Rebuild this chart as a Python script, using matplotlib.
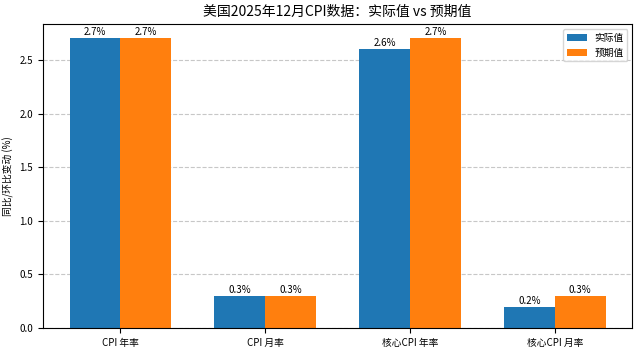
import matplotlib
matplotlib.use("Agg")
import matplotlib.pyplot as plt
import numpy as np

plt.rcParams['font.family'] = ['Noto Sans CJK SC', 'DejaVu Sans']
plt.rcParams['axes.unicode_minus'] = False

categories = ['CPI 年率', 'CPI 月率', '核心CPI 年率', '核心CPI 月率']
actual = [2.7, 0.3, 2.6, 0.2]
expected = [2.7, 0.3, 2.7, 0.3]

fig, ax = plt.subplots(figsize=(6.4, 3.52), dpi=100)
x = np.arange(len(categories))
w = 0.35
b1 = ax.bar(x - w/2, actual, w, label='实际值', color='#1f77b4')
b2 = ax.bar(x + w/2, expected, w, label='预期值', color='#ff7f0e')
for bars in (b1, b2):
    for b in bars:
        ax.text(b.get_x() + b.get_width()/2, b.get_height() + 0.01,
                f'{b.get_height():.1f}%', ha='center', va='bottom', fontsize=7)
ax.set_xticks(x)
ax.set_xticklabels(categories, fontsize=7)
ax.tick_params(axis='y', labelsize=7)
ax.set_ylabel('同比/环比变动 (%)', fontsize=7)
ax.set_title('美国2025年12月CPI数据：实际值 vs 预期值', fontsize=10)
ax.legend(fontsize=7, loc='upper right')
ax.grid(axis='y', linestyle='--', alpha=0.7)
ax.set_axisbelow(True)
fig.subplots_adjust(left=0.067, right=0.988, top=0.932, bottom=0.068)
fig.savefig('out.png', dpi=100)
